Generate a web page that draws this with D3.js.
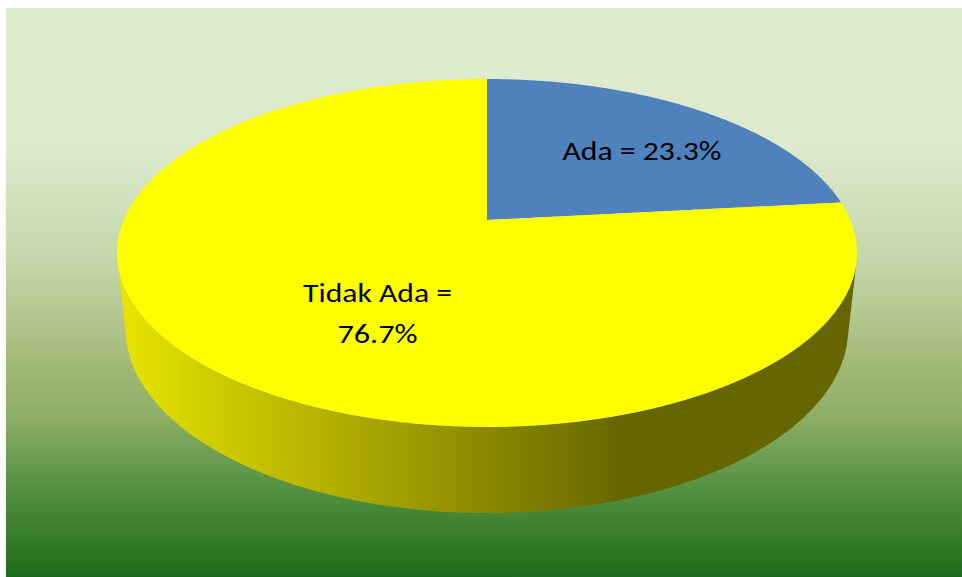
<!DOCTYPE html>
<html>
<head>
<meta charset="utf-8">
<script src="https://cdn.jsdelivr.net/npm/d3@7"></script>
<style>
  html, body { margin: 0; padding: 0; background: #ffffff; }
  svg { display: block; }
</style>
</head>
<body>
<svg id="chart" width="962" height="577"></svg>
<script>
// Share of respondents: "Ada" (present) vs "Tidak Ada" (absent)
const categories = ["Ada", "Tidak Ada"];
const values = [23.3, 76.7];
const labelLines = [["Ada = 23.3%"], ["Tidak Ada =", "76.7%"]];
const sliceColors = ["#4F81BD", "#FFFF00"];

const svg = d3.select("#chart");
const defs = svg.append("defs");

// Panel background: pale green at the top, deep green at the bottom
const bg = defs.append("linearGradient")
  .attr("id", "bgGrad").attr("x1", 0).attr("y1", 0).attr("x2", 0).attr("y2", 1);
[[0, "#DEEBCF"], [0.24, "#DDEACD"], [0.45, "#C3D6A8"], [0.64, "#9FB774"],
 [0.72, "#8CAE65"], [0.81, "#63994B"], [0.87, "#4D8A3B"], [1, "#1C6B1A"]]
  .forEach(([o, c]) => bg.append("stop").attr("offset", o).attr("stop-color", c));

svg.append("rect")
  .attr("x", 6).attr("y", 8).attr("width", 956).attr("height", 569)
  .attr("fill", "url(#bgGrad)");

// Side wall shading: lit on the left, dark olive towards the right
const side = defs.append("linearGradient")
  .attr("id", "sideGrad").attr("gradientUnits", "userSpaceOnUse")
  .attr("x1", 118).attr("y1", 0).attr("x2", 625).attr("y2", 0);
side.append("stop").attr("offset", 0).attr("stop-color", "#E8E400");
side.append("stop").attr("offset", 1).attr("stop-color", "#666600");

// Perspective camera for a tilted cylinder of unit radius
const cx = 487, cy = 220;      // projected pie centre
const D = 4.68;                // camera distance
const F = 1700;                // focal length in px
const sinA = 0.4617, cosA = Math.sqrt(1 - sinA * sinA); // tilt
const H = 0.238;               // thickness of the pie

// a: pie angle (clockwise from 12 o'clock), r: radius fraction, y: height
function project(a, r, y) {
  const X = r * Math.sin(a), Z = r * Math.cos(a);
  const yc = y * cosA + Z * sinA;
  const zc = D + Z * cosA - y * sinA;
  return [cx + F * X / zc, cy - F * yc / zc];
}

const arcs = d3.pie().sort(null).startAngle(0).endAngle(2 * Math.PI)(values);
const line = d3.line();
const STEP = Math.PI / 720;

function arcPoints(a0, a1, y) {
  const n = Math.max(2, Math.ceil((a1 - a0) / STEP));
  return d3.range(n + 1).map(i => project(a0 + (a1 - a0) * i / n, 1, y));
}

// Outer wall: only the part that faces the camera
const cutoff = Math.acos(-1 / (D * cosA));   // cos a < -R/(D cosA)
const visLo = cutoff, visHi = 2 * Math.PI - cutoff;
const wallG = svg.append("g");
arcs.forEach((d, i) => {
  const a0 = Math.max(d.startAngle, visLo), a1 = Math.min(d.endAngle, visHi);
  if (a1 <= a0) return;
  const pts = arcPoints(a0, a1, 0).concat(arcPoints(a0, a1, -H).reverse());
  wallG.append("path")
    .attr("d", line(pts) + "Z")
    .attr("fill", i === 1 ? "url(#sideGrad)" : d3.color(sliceColors[i]).darker(1));
});

// Top faces
const topG = svg.append("g");
arcs.forEach((d, i) => {
  const pts = [project(0, 0, 0)].concat(arcPoints(d.startAngle, d.endAngle, 0));
  topG.append("path")
    .attr("d", line(pts) + "Z")
    .attr("fill", sliceColors[i]);
});

// Data labels
const labelPos = [
  { x: 642, y: 160, widths: [159] },
  { x: 377.5, y: 302, widths: [149, 80] }
];
const labelG = svg.append("g")
  .attr("font-family", "Carlito, Lato, 'DejaVu Sans', sans-serif")
  .attr("font-size", 26)
  .attr("fill", "#000000")
  .attr("text-anchor", "middle");
labelLines.forEach((lines, i) => {
  lines.forEach((t, j) => {
    labelG.append("text")
      .attr("x", labelPos[i].x)
      .attr("y", labelPos[i].y + j * 41)
      .attr("textLength", labelPos[i].widths[j])
      .attr("lengthAdjust", "spacingAndGlyphs")
      .text(t);
  });
});
</script>
</body>
</html>
